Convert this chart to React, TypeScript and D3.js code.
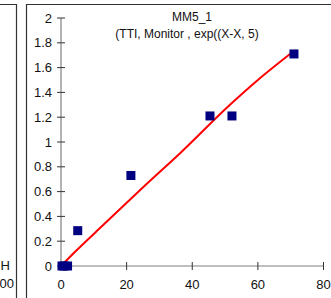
import React from "react";
import * as d3 from "d3";

const xTicks = [0, 20, 40, 60, 80];
const yTicks = [0, 0.2, 0.4, 0.6, 0.8, 1, 1.2, 1.4, 1.6, 1.8, 2];
const obsX = [0.3, 1, 2, 5.1, 21.3, 45.4, 52.1, 71.0];
const obsY = [0, 0, 0, 0.285, 0.73, 1.21, 1.21, 1.71];
const fitX = [0, 4.3, 13.4, 25.6, 36.3, 51.5, 60, 71.3];
const fitY = [0, 0.115, 0.344, 0.65, 0.91, 1.3, 1.5, 1.74];
const title = "MM5_1";
const subtitle = "(TTI, Monitor , exp((X-X, 5)";

export default function App() {
  const W = 331, H = 298;
  const x = d3.scaleLinear().domain([0, 80]).range([61, 323.5]);
  const y = d3.scaleLinear().domain([0, 2]).range([266, 18]);
  const line = d3
    .line<number>()
    .x((_, i) => x(fitX[i]))
    .y((_, i) => y(fitY[i]))
    .curve(d3.curveMonotoneX);
  const font = "Liberation Sans, Arial, sans-serif";
  const sq = 9;
  return (
    <svg width={W} height={H} style={{ position: "absolute", left: 0, top: 0 }} fontFamily={font}>
      <rect x={0} y={0} width={W} height={H} fill="#fff" />
      {/* left neighbouring panel */}
      <path d="M-2,4.5 H16.5 V300" fill="none" stroke="#333" strokeWidth={1.2} />
      <text x={10} y={270} fontSize={13} textAnchor="end" fill="#111">H</text>
      <text x={14} y={288} fontSize={13} textAnchor="end" fill="#111">00</text>
      {/* main panel border */}
      <path d="M26.5,300 V4.5 H340" fill="none" stroke="#333" strokeWidth={1.2} />
      <text x={192} y={21} fontSize={12} textAnchor="middle" fill="#111">{title}</text>
      <text x={187} y={38} fontSize={12} textAnchor="middle" fill="#111">{subtitle}</text>
      {/* axes */}
      <line x1={x(0)} x2={x(0)} y1={y(2)} y2={y(0)} stroke="#808080" strokeWidth={1.2} />
      <line x1={x(0)} x2={x(80)} y1={y(0)} y2={y(0)} stroke="#808080" strokeWidth={1.2} />
      {yTicks.map((t) => (
        <g key={"y" + t}>
          <line x1={x(0) - 4} x2={x(0) + 4} y1={y(t)} y2={y(t)} stroke="#333" />
          <text x={x(0) - 9} y={y(t) + 4.5} fontSize={13} textAnchor="end" fill="#111">{t}</text>
        </g>
      ))}
      {xTicks.map((t) => (
        <g key={"x" + t}>
          <line x1={x(t)} x2={x(t)} y1={y(0) - 4} y2={y(0) + 4} stroke="#333" />
          <text x={x(t)} y={289} fontSize={13} textAnchor="middle" fill="#111">{t}</text>
        </g>
      ))}
      <path d={line(fitX) || ""} fill="none" stroke="#ff0000" strokeWidth={2} />
      {obsX.map((v, i) => (
        <rect key={i} x={x(v) - sq / 2} y={y(obsY[i]) - sq / 2} width={sq} height={sq} fill="#000080" />
      ))}
    </svg>
  );
}
